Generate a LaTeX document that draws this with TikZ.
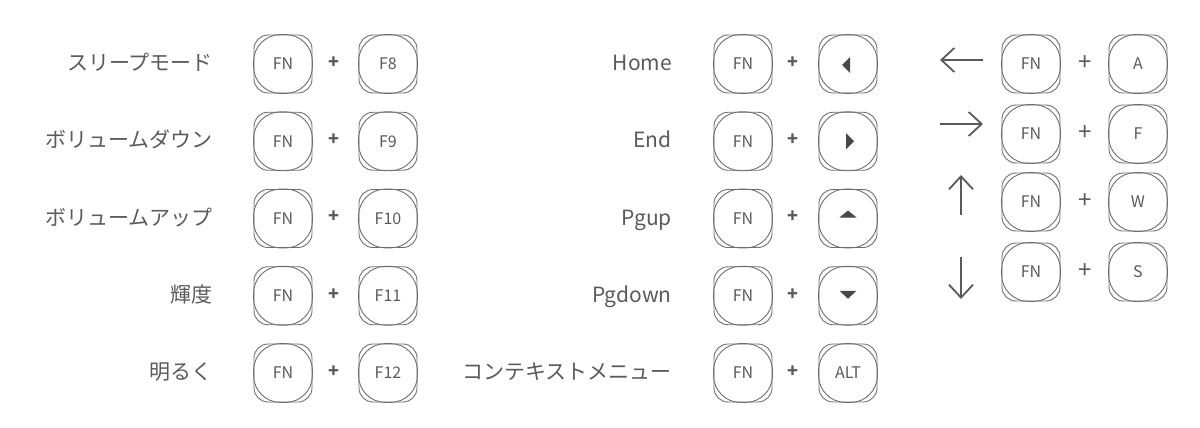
\documentclass[tikz,border=0pt]{standalone}
\usepackage{fontspec}
\setmainfont{Noto Sans CJK JP}
\usetikzlibrary{arrows.meta}
\definecolor{txt}{HTML}{5A5A5A}
\definecolor{keyc}{HTML}{6E6E6E}
\definecolor{tri}{HTML}{484848}
\tikzset{
  keybox/.style={draw=keyc, line width=0.9pt, rounded corners=14pt, minimum width=58pt, minimum height=58pt, inner sep=0pt, font=\fontsize{16}{16}\selectfont, text=txt},
  keyinner/.style={draw=keyc, line width=0.9pt, rounded corners=27pt},
  lbl/.style={anchor=base east, font=\fontsize{21}{21}\selectfont, text=txt, inner sep=0pt},
  plusb/.style={font=\fontsize{18}{18}\selectfont\bfseries, text=txt, inner sep=0pt},
  plusl/.style={font=\fontsize{24}{24}\selectfont, text=txt, inner sep=0pt},
  dirarrow/.style={draw=txt, line width=1.8pt, -{Straight Barb[length=13pt,width=24pt]}},
  trifill/.style={fill=tri},
}
\newcommand\mykey[4]{\node[keybox] (#1) at (#2,#3) {#4};
  \draw[keyinner] (#1.south west) rectangle (#1.north east);}
\newcommand\combo[8]{% name, labelright, y, fnx, plusx, keyx, label, keytext
  \node[lbl] (#1l) at (#2,#3+6.5) {#7};
  \mykey{#1f}{#4}{#3}{FN}
  \node[plusb] (#1p) at (#5,#3-1.5) {+};
  \mykey{#1k}{#6}{#3}{#8}}
\begin{document}
\begin{tikzpicture}[x=1pt,y=-1pt]
\useasboundingbox (0,0) rectangle (1200,428);
% column 1
\combo{a}{213}{64}{283}{334}{388}{スリープモード}{F8}
\combo{b}{213}{141.25}{283}{334}{388}{ボリュームダウン}{F9}
\combo{c}{213}{218.5}{283}{334}{388}{ボリュームアップ}{F10}
\combo{d}{213}{295.75}{283}{334}{388}{輝度}{F11}
\combo{e}{213}{373}{283}{334}{388}{明るく}{F12}
% column 2
\combo{h}{672}{64}{743}{793}{848}{Home}{}
\combo{i}{672}{141.25}{743}{793}{848}{End}{}
\combo{j}{672}{218.5}{743}{793}{848}{Pgup}{}
\combo{m}{672}{295.75}{743}{793}{848}{Pgdown}{}
\combo{n}{672}{373}{743}{793}{848}{コンテキストメニュー}{ALT}
\fill[trifill] (hk.center) ++(-6,1) -- ++(8,-8) -- ++(0,16) -- cycle;
\fill[trifill] (ik.center) ++(6,0) -- ++(-8,-8) -- ++(0,16) -- cycle;
\fill[trifill] (jk.center) ++(-8.5,-1) -- ++(17,0) -- ++(-8.5,-7) -- cycle;
\fill[trifill] (mk.center) ++(-8.5,-5) -- ++(17,0) -- ++(-8.5,8) -- cycle;
% column 3
\coordinate (lw1) at (983,60); \coordinate (lw2) at (940,60);
\coordinate (rw1) at (940,124); \coordinate (rw2) at (983,124);
\coordinate (up1) at (961,215); \coordinate (up2) at (961,175);
\coordinate (dn1) at (961,257); \coordinate (dn2) at (961,299);
\draw[dirarrow] (lw1) -- (lw2);
\draw[dirarrow] (rw1) -- (rw2);
\draw[dirarrow] (up1) -- (up2);
\draw[dirarrow] (dn1) -- (dn2);
\mykey{qf}{1031}{64}{FN}  \node[plusl] (qp) at (1085,63) {+}; \mykey{qk}{1138}{64}{A}
\mykey{rf}{1031}{134}{FN} \node[plusl] (rp) at (1085,133) {+}; \mykey{rk}{1138}{134}{F}
\mykey{sf}{1031}{202}{FN} \node[plusl] (sp) at (1085,201) {+}; \mykey{sk}{1138}{202}{W}
\mykey{tf}{1031}{272}{FN} \node[plusl] (tp) at (1085,271) {+}; \mykey{tk}{1138}{272}{S}
\end{tikzpicture}
\end{document}
